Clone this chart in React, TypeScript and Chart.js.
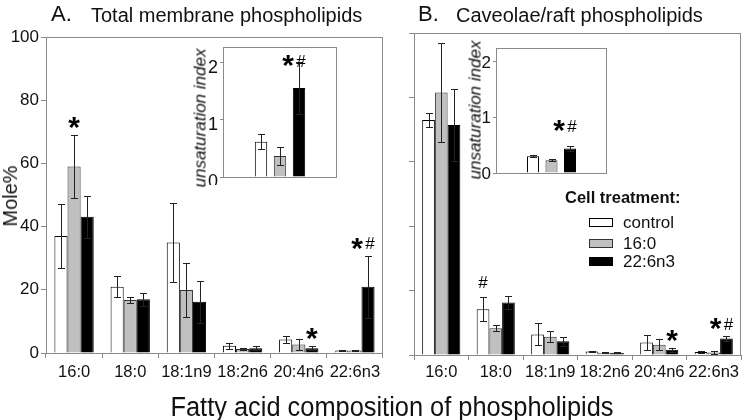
import React, { useEffect, useRef } from 'react';
import { Chart, registerables } from 'chart.js';

Chart.register(...registerables);

const FONT = "'Liberation Sans', Arial, Helvetica, sans-serif";

// ---- data ----
const categories = ['16:0', '18:0', '18:1n9', '18:2n6', '20:4n6', '22:6n3'];
const seriesNames = ['control', '16:0', '22:6n3'];
const mainYTicks = [0, 20, 40, 60, 80, 100];

const totalControl = [37.0, 21.0, 35.0, 2.3, 4.3, 0.8];
const totalControlErr = [10.0, 3.4, 12.5, 1.0, 1.2, 0.3];
const total16 = [59.0, 16.8, 19.9, 1.3, 2.7, 0.8];
const total16Err = [10.0, 1.0, 8.5, 0.4, 1.6, 0.3];
const total22 = [43.1, 17.0, 16.2, 1.5, 1.5, 21.0];
const total22Err = [6.6, 2.1, 6.6, 0.7, 0.6, 9.8];

const raftControl = [73.0, 14.2, 6.4, 1.1, 3.9, 0.9];
const raftControlErr = [2.1, 3.7, 3.4, 0.2, 2.2, 0.4];
const raft16 = [81.5, 8.3, 5.7, 0.7, 3.2, 0.8];
const raft16Err = [15.5, 0.9, 1.8, 0.2, 1.7, 0.4];
const raft22 = [71.4, 16.3, 4.3, 0.7, 1.6, 5.1];
const raft22Err = [11.1, 2.1, 1.4, 0.2, 0.6, 0.8];

const insetYTicks = [0, 1, 2];
const insetTotal = [0.62, 0.37, 1.56];
const insetTotalErr = [0.13, 0.16, 0.45];
const insetRaft = [0.30, 0.23, 0.44];
const insetRaftErr = [0.02, 0.02, 0.04];

type Mark = { cat: number; series: number; text: string };
const totalMarks: Mark[] = [
  { cat: 0, series: 1, text: '*' },
  { cat: 4, series: 2, text: '*' },
  { cat: 5, series: 2, text: '*#' },
];
const raftMarks: Mark[] = [
  { cat: 1, series: 0, text: '#' },
  { cat: 4, series: 2, text: '*' },
  { cat: 5, series: 2, text: '*#' },
];
const insetTotalMarks: Mark[] = [{ cat: 2, series: 0, text: '*#' }];
const insetRaftMarks: Mark[] = [{ cat: 2, series: 0, text: '*#' }];

// ---- styles ----
const FILLS = ['#ffffff', '#c0c0c0', '#000000'];
const BORDERS = ['#000000', '#333333', '#000000'];
const FRAME = '#8a8a8a';

const extrasPlugin = {
  id: 'extras',
  afterDatasetsDraw(chart: any, _args: any, opts: any) {
    const { ctx, chartArea } = chart;
    const yScale = chart.scales.y;
    const values: number[][] = opts.values || [];
    const errors: number[][] = opts.errors || [];
    ctx.save();
    // frame
    ctx.strokeStyle = FRAME;
    ctx.lineWidth = 1;
    const l = Math.round(chartArea.left) + 0.5;
    const t = Math.round(chartArea.top) + 0.5;
    const r = Math.round(chartArea.right) - 0.5;
    const b = Math.round(chartArea.bottom) + 0.5;
    ctx.strokeRect(l, t, r - l, b - t);
    // error bars
    ctx.strokeStyle = '#222';
    const cap = opts.cap || 3.5;
    values.forEach((vals, di) => {
      const meta = chart.getDatasetMeta(di);
      vals.forEach((v, i) => {
        const e = errors[di] ? errors[di][i] : 0;
        if (!e) return;
        const bar = meta.data[i];
        const x = Math.round(bar.x) + 0.5;
        const yt = Math.round(yScale.getPixelForValue(v + e)) + 0.5;
        const yb = Math.round(yScale.getPixelForValue(Math.max(0, v - e))) + 0.5;
        ctx.beginPath();
        ctx.moveTo(x, yb);
        ctx.lineTo(x, yt);
        ctx.moveTo(x - cap, yt);
        ctx.lineTo(x + cap, yt);
        ctx.moveTo(x - cap, yb);
        ctx.lineTo(x + cap, yb);
        ctx.stroke();
      });
    });
    // significance marks
    ctx.fillStyle = '#000';
    ctx.textAlign = 'center';
    ctx.textBaseline = 'alphabetic';
    (opts.marks || []).forEach((m: Mark) => {
      const bar = chart.getDatasetMeta(m.series).data[m.cat];
      const v = values[m.series][m.cat] + (errors[m.series] ? errors[m.series][m.cat] : 0);
      const top = yScale.getPixelForValue(v);
      const hasStar = m.text.includes('*');
      const hasHash = m.text.includes('#');
      let hashX = bar.x;
      let starX = bar.x;
      if (hasStar && hasHash) {
        hashX = bar.x + 2;
        starX = hashX - 13;
      }
      const starCy = top - opts.starGap;
      if (hasStar) {
        ctx.font = `bold 30px ${FONT}`;
        const mt = ctx.measureText('*');
        const y = starCy + (mt.actualBoundingBoxAscent - mt.actualBoundingBoxDescent) / 2;
        ctx.fillText('*', starX, y);
      }
      if (hasHash) {
        ctx.font = `17px ${FONT}`;
        const baseY = hasStar ? starCy + 5.5 : top - opts.hashGap;
        ctx.fillText('#', hashX, baseY);
      }
    });
    ctx.restore();
  },
};

function mainConfig(
  values: number[][],
  errors: number[][],
  marks: Mark[],
  o: { padTop: number; padRight: number; yWidth: number; xHeight: number; xPad: number; showY: boolean }
): any {
  return {
    type: 'bar',
    data: {
      labels: categories,
      datasets: values.map((vals, i) => ({
        label: seriesNames[i],
        data: vals,
        backgroundColor: FILLS[i],
        borderColor: BORDERS[i],
        borderWidth: 1,
        categoryPercentage: 0.7,
        barPercentage: 1,
      })),
    },
    options: {
      responsive: false,
      animation: false,
      devicePixelRatio: 1,
      layout: { padding: { left: 0, top: o.padTop, right: o.padRight, bottom: 0 } },
      plugins: {
        legend: { display: false },
        tooltip: { enabled: false },
        extras: { values, errors, marks, starGap: 12, hashGap: 9, cap: 3.5 },
      },
      scales: {
        x: {
          grid: { display: true, drawOnChartArea: false, drawTicks: true, tickLength: 5, color: FRAME, offset: true },
          border: { display: false },
          ticks: { font: { size: 16.5, family: FONT }, color: '#111', padding: o.xPad, maxRotation: 0, autoSkip: false },
          afterFit: (s: any) => {
            s.height = o.xHeight;
            s.paddingLeft = 0;
            s.paddingRight = 0;
          },
        },
        y: {
          min: 0,
          max: 100,
          afterBuildTicks: (s: any) => {
            s.ticks = mainYTicks.map((v) => ({ value: v }));
          },
          grid: { display: true, drawOnChartArea: false, drawTicks: true, tickLength: 5, color: FRAME },
          border: { display: false },
          ticks: {
            font: { size: 17, family: FONT },
            color: '#111',
            padding: 2,
            callback: (v: any) => (o.showY ? String(v) : ''),
          },
          afterFit: (s: any) => {
            s.width = o.yWidth;
            s.paddingTop = 0;
            s.paddingBottom = 0;
          },
        },
      },
    },
    plugins: [extrasPlugin],
  };
}

function insetConfig(
  values: number[],
  errors: number[],
  marks: Mark[],
  o: {
    padTop: number;
    padRight: number;
    padBottom: number;
    yWidth: number;
    yMax: number;
    starGap: number;
    fontSize: number;
    labelOffset: number;
  }
): any {
  return {
    type: 'bar',
    data: {
      datasets: [
        {
          label: 'unsaturation index',
          data: values.map((v, i) => ({ x: i + 1, y: v })),
          backgroundColor: FILLS,
          borderColor: BORDERS,
          borderWidth: 1,
          categoryPercentage: 1,
          barPercentage: 0.65,
        },
      ],
    },
    options: {
      responsive: false,
      animation: false,
      devicePixelRatio: 1,
      layout: { padding: { left: 0, top: o.padTop, right: o.padRight, bottom: o.padBottom } },
      plugins: {
        legend: { display: false },
        tooltip: { enabled: false },
        extras: { values: [values], errors: [errors], marks, starGap: o.starGap, hashGap: 0, cap: 3.5 },
      },
      scales: {
        x: { type: 'linear', min: 0, max: 4, display: false },
        y: {
          min: 0,
          max: o.yMax,
          afterBuildTicks: (s: any) => {
            s.ticks = insetYTicks.map((v) => ({ value: v }));
          },
          grid: { display: true, drawOnChartArea: false, drawTicks: true, tickLength: 3, color: FRAME },
          border: { display: false },
          ticks: {
            font: { size: o.fontSize, family: FONT },
            color: '#111',
            padding: 2,
            labelOffset: o.labelOffset,
          },
          afterFit: (s: any) => {
            s.width = o.yWidth;
            s.paddingTop = 0;
            s.paddingBottom = 0;
          },
        },
      },
    },
    plugins: [extrasPlugin],
  };
}

function ChartCanvas(props: { make: () => any; left: number; top: number; width: number; height: number }) {
  const ref = useRef<HTMLCanvasElement>(null);
  useEffect(() => {
    const chart = new Chart(ref.current as HTMLCanvasElement, props.make());
    return () => chart.destroy();
  }, []);
  return (
    <canvas
      ref={ref}
      width={props.width}
      height={props.height}
      style={{ position: 'absolute', left: props.left, top: props.top, width: props.width, height: props.height }}
    />
  );
}

const txt = (extra: React.CSSProperties): React.CSSProperties => ({
  position: 'absolute',
  fontFamily: FONT,
  lineHeight: 1,
  whiteSpace: 'nowrap',
  color: '#111',
  ...extra,
});

export default function App() {
  return (
    <div
      style={{
        position: 'fixed',
        left: 0,
        top: 0,
        width: 742,
        height: 420,
        background: '#fff',
        overflow: 'hidden',
      }}
    >
      <ChartCanvas
        left={0}
        top={0}
        width={390}
        height={420}
        make={() =>
          mainConfig([totalControl, total16, total22], [totalControlErr, total16Err, total22Err], totalMarks, {
            padTop: 37,
            padRight: 7,
            yWidth: 46,
            xHeight: 67,
            xPad: 5,
            showY: true,
          })
        }
      />
      <ChartCanvas
        left={384}
        top={0}
        width={358}
        height={420}
        make={() =>
          mainConfig([raftControl, raft16, raft22], [raftControlErr, raft16Err, raft22Err], raftMarks, {
            padTop: 33,
            padRight: 1,
            yWidth: 30,
            xHeight: 65,
            xPad: 3,
            showY: false,
          })
        }
      />
      <ChartCanvas
        left={180}
        top={40}
        width={160}
        height={145}
        make={() =>
          insetConfig(insetTotal, insetTotalErr, insetTotalMarks, {
            padTop: 7,
            padRight: 3,
            padBottom: 8,
            yWidth: 43,
            yMax: 2.28,
            starGap: 1,
            fontSize: 18,
            labelOffset: 5,
          })
        }
      />
      <ChartCanvas
        left={455}
        top={40}
        width={160}
        height={140}
        make={() =>
          insetConfig(insetRaft, insetRaftErr, insetRaftMarks, {
            padTop: 8,
            padRight: 8,
            padBottom: 7,
            yWidth: 41,
            yMax: 2.25,
            starGap: 20,
            fontSize: 17,
            labelOffset: 1,
          })
        }
      />

      {/* panel titles */}
      <div style={txt({ left: 51, top: 3.4, fontSize: 22 })}>A.</div>
      <div style={txt({ left: 91, top: 5.1, fontSize: 20 })}>Total membrane phospholipids</div>
      <div style={txt({ left: 418, top: 3.4, fontSize: 22 })}>B.</div>
      <div style={txt({ left: 456, top: 5.1, fontSize: 20 })}>Caveolae/raft phospholipids</div>

      {/* axis titles */}
      <div
        style={txt({
          left: 391.5,
          top: 393.5,
          fontSize: 27,
          transform: 'translateX(-50%) scaleX(0.94)',
        })}
      >
        Fatty acid composition of phospholipids
      </div>
      <div style={txt({ left: 10, top: 195.5, fontSize: 20, transform: 'translate(-50%,-50%) rotate(-90deg)' })}>
        Mole%
      </div>
      <div
        style={txt({
          left: 199.5,
          top: 118,
          fontSize: 17,
          fontStyle: 'italic',
          transform: 'translate(-50%,-50%) rotate(-90deg)',
        })}
      >
        unsaturation index
      </div>
      <div
        style={txt({
          left: 475,
          top: 110,
          fontSize: 17,
          fontStyle: 'italic',
          transform: 'translate(-50%,-50%) rotate(-90deg)',
        })}
      >
        unsaturation index
      </div>

      {/* legend */}
      <div style={txt({ left: 565, top: 189, fontSize: 16.5, fontWeight: 'bold' })}>Cell treatment:</div>
      {seriesNames.map((name, i) => {
        const cy = [222.5, 243.5, 261.5][i];
        return (
          <React.Fragment key={name}>
            <div
              style={{
                position: 'absolute',
                left: 589,
                top: cy - 4.5,
                width: 24,
                height: 9,
                boxSizing: 'border-box',
                background: FILLS[i],
                border: `1px solid ${BORDERS[i]}`,
              }}
            />
            <div style={txt({ left: 623, top: cy - 8.3, fontSize: 17 })}>{name}</div>
          </React.Fragment>
        );
      })}
    </div>
  );
}
